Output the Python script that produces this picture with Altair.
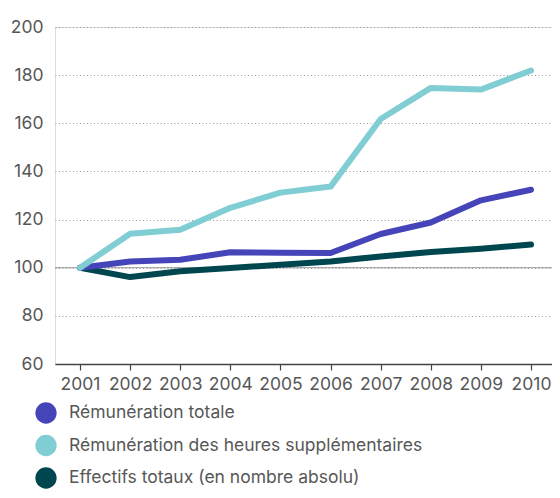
import altair as alt
import pandas as pd

years = [2001, 2002, 2003, 2004, 2005, 2006, 2007, 2008, 2009, 2010]
remuneration_totale = [100, 102.6, 103.3, 106.4, 106.2, 106.1, 114.0, 118.8, 128.0, 132.4]
heures_sup = [100, 114.1, 115.8, 124.9, 131.2, 133.7, 161.8, 174.7, 174.0, 181.9]
effectifs = [100, 96.1, 98.5, 99.9, 101.2, 102.6, 104.7, 106.5, 107.9, 109.6]

series_names = [
    "Rémunération totale",
    "Rémunération des heures supplémentaires",
    "Effectifs totaux (en nombre absolu)",
]
series_colors = ["#4545B9", "#80CDD3", "#00464F"]
y_ticks = [60, 80, 100, 120, 140, 160, 180, 200]

rows = []
for name, vals in [
    (series_names[2], effectifs),
    (series_names[0], remuneration_totale),
    (series_names[1], heures_sup),
]:
    for yr, v in zip(years, vals):
        rows.append({"year": yr, "value": v, "series": name})
df = pd.DataFrame(rows)

FONT = "Inter"
GRAY = "#575757"
FS = 17.5

x_enc = alt.X(
    "year:Q",
    scale=alt.Scale(domain=[2000.501, 2010.419], nice=False, zero=False),
    axis=alt.Axis(
        title=None,
        values=years,
        format="d",
        labelAngle=0,
        labelFontSize=FS,
        labelColor=GRAY,
        labelFont=FONT,
        labelPadding=5,
        labelFlush=False,
        labelOverlap=False,
        domainColor="#444444",
        domainWidth=1.5,
        tickColor="#444444",
        tickSize=6,
        tickWidth=1.2,
        grid=False,
    ),
)
y_enc = alt.Y(
    "value:Q",
    scale=alt.Scale(domain=[60, 200], nice=False, zero=False),
    axis=alt.Axis(
        title=None,
        values=y_ticks,
        labelFontSize=FS,
        labelColor=GRAY,
        labelFont=FONT,
        labelPadding=12,
        domain=False,
        ticks=False,
        grid=True,
        gridColor="#999999",
        gridDash=[1, 2.5],
        gridWidth=1,
    ),
)
color_enc = alt.Color(
    "series:N",
    scale=alt.Scale(domain=series_names, range=series_colors),
    legend=alt.Legend(
        title=None,
        orient="none",
        legendX=-20,
        legendY=375,
        direction="vertical",
        symbolType="circle",
        symbolSize=452,
        symbolStrokeWidth=0,
        symbolOpacity=1,
        labelFontSize=FS,
        labelColor=GRAY,
        labelFont=FONT,
        labelOffset=12,
        labelLimit=0,
        rowPadding=10.5,
        padding=0,
    ),
)

legend_pts = alt.Chart(df).mark_circle(size=0, opacity=1).encode(
    x=x_enc, y=y_enc, color=color_enc
)

base_rule = alt.Chart(pd.DataFrame({"y": [100]})).mark_rule(
    color="#aaaaaa", strokeWidth=1.2
).encode(y="y:Q")

lines = alt.Chart(df).mark_line(strokeWidth=6, strokeCap="round", strokeJoin="round").encode(
    x=x_enc, y=y_enc, color=color_enc, detail="series:N"
)

chart = (
    alt.layer(legend_pts, base_rule, lines)
    .properties(
        width=497,
        height=337,
        autosize=alt.AutoSizeParams(type="none"),
        padding={"left": 47, "top": 19, "right": 0, "bottom": 126},
    )
    .configure_view(stroke=None)
    .configure(font=FONT)
)

chart.save("out.html", embed_options={"renderer": "svg", "actions": False})
